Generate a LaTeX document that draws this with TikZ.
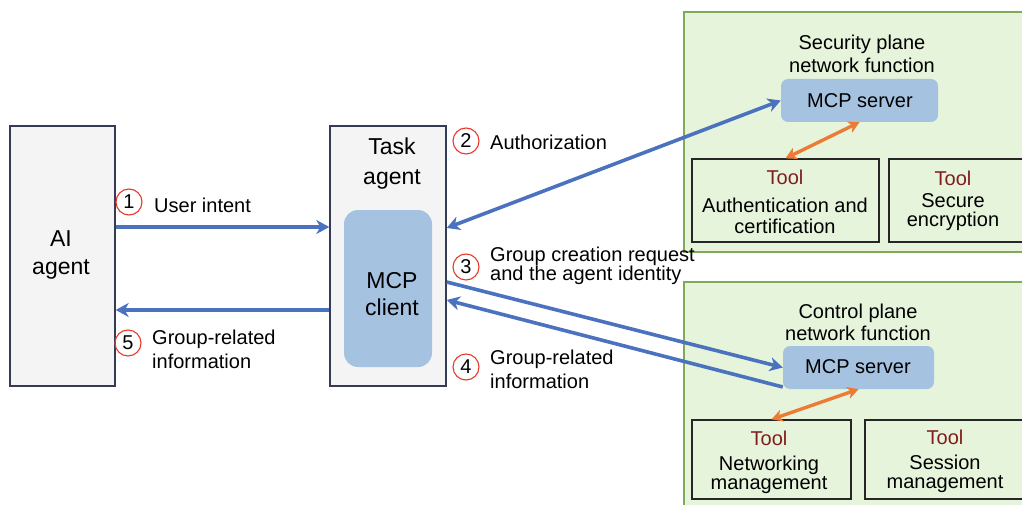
\documentclass[tikz,border=0pt]{standalone}
\usepackage{fontspec}
\setmainfont{Liberation Sans}
\usetikzlibrary{arrows.meta}

\definecolor{flowblue}{RGB}{74,114,190}
\definecolor{tooloran}{RGB}{236,123,53}
\definecolor{steprd}{RGB}{230,57,42}
\definecolor{tooltxt}{RGB}{128,28,28}
\definecolor{planefill}{RGB}{231,244,220}
\definecolor{planeline}{RGB}{126,170,90}
\definecolor{mcpfill}{RGB}{165,195,225}
\definecolor{agentfill}{RGB}{244,244,245}
\definecolor{agentline}{RGB}{54,59,85}

\tikzset{
  agentbox/.style={draw=agentline, fill=agentfill, line width=1.4pt, inner sep=0pt},
  planebox/.style={draw=planeline, fill=planefill, line width=1.2pt, inner sep=0pt},
  mcpbox/.style={fill=mcpfill, rounded corners=#1, inner sep=0pt},
  toolbox/.style={draw=black!85, fill=planefill, line width=1.3pt, inner sep=0pt},
  txt/.style={inner sep=0pt, align=center, font=\fontsize{20}{24}\selectfont},
  tighttxt/.style={inner sep=0pt, align=center, font=\fontsize{20}{18.5}\selectfont},
  bigtxt/.style={inner sep=0pt, align=center, font=\fontsize{23}{28}\selectfont},
  tooltag/.style={inner sep=0pt, text=tooltxt, font=\fontsize{20}{24}\selectfont},
  stepnum/.style={circle, draw=steprd, line width=1.1pt, minimum size=26pt, inner sep=0pt, font=\fontsize{20}{24}\selectfont},
  flow/.style={draw=flowblue, line width=3.6pt},
  toollink/.style={draw=tooloran, line width=3.4pt, {Stealth[length=11pt, width=12pt, inset=3pt]}-{Stealth[length=11pt, width=12pt, inset=3pt]}}
}

\begin{document}
\begin{tikzpicture}[x=1pt, y=-1pt]
\useasboundingbox (0,0) rectangle (1022,505);
\clip (0,0) rectangle (1022,505);

% agents
\node[agentbox, minimum width=105pt, minimum height=260pt] (ai) at (62.5,256) {};
\node[bigtxt, font=\fontsize{23}{28}\selectfont] (ailabel) at (61,255) {AI\\agent};

\node[agentbox, minimum width=116pt, minimum height=260pt] (task) at (388,256) {};
\node[bigtxt, font=\fontsize{23}{30}\selectfont] (tasklabel) at (392,164) {Task\\agent};
\node[mcpbox=14pt, minimum width=88pt, minimum height=157pt] (client) at (388,288.5) {};
\node[bigtxt, font=\fontsize{23}{27}\selectfont] (clientlabel) at (392,294) {MCP\\client};

% security plane network function
\node[planebox, minimum width=346pt, minimum height=240pt] (secplane) at (857,132) {};
\node[txt, font=\fontsize{20}{23}\selectfont] (sectitle) at (862,54) {Security plane\\network function};
\node[mcpbox=7pt, minimum width=157pt, minimum height=43pt] (sserver) at (859.5,100.5) {};
\node[txt] (sserverlabel) at (860,100.5) {MCP server};
\node[toolbox, minimum width=187pt, minimum height=83pt] (tool1) at (785.5,200.5) {};
\node[tooltag] (tool1tag) at (785,177) {Tool};
\node[txt, font=\fontsize{20}{21}\selectfont] (tool1label) at (785,215.5) {Authentication and\\certification};
\node[toolbox, minimum width=145pt, minimum height=83pt] (tool2) at (961.5,200.5) {};
\node[tooltag] (tool2tag) at (953,178) {Tool};
\node[tighttxt] (tool2label) at (953,212) {Secure\\encryption};

% control plane network function
\node[planebox, minimum width=346pt, minimum height=240pt] (ctlplane) at (857,402) {};
\node[txt, font=\fontsize{20}{22}\selectfont] (ctltitle) at (858,322) {Control plane\\network function};
\node[mcpbox=7pt, minimum width=151pt, minimum height=43pt] (cserver) at (858.5,367.5) {};
\node[txt] (cserverlabel) at (858,366.5) {MCP server};
\node[toolbox, minimum width=159pt, minimum height=79pt] (tool3) at (771.5,459.5) {};
\node[tooltag] (tool3tag) at (769,438) {Tool};
\node[tighttxt] (tool3label) at (769,475) {Networking\\management};
\node[toolbox, minimum width=165pt, minimum height=79pt] (tool4) at (947.5,459.5) {};
\node[tooltag] (tool4tag) at (945,437) {Tool};
\node[tighttxt] (tool4label) at (945,474) {Session\\management};

% step markers and their labels
\node[stepnum] (s1) at (129,202) {1};
\node[txt, anchor=west] (l1) at (154,205) {User intent};
\node[stepnum] (s5) at (128,343) {5};
\node[txt, anchor=west, align=left] (l5) at (152,349) {Group-related\\information};
\node[stepnum] (s2) at (466,141) {2};
\node[txt, anchor=west] (l2) at (490,142) {Authorization};
\node[stepnum] (s3) at (466,267) {3};
\node[txt, anchor=west, align=left, font=\fontsize{20}{19}\selectfont] (l3) at (490,265.5) {Group creation request\\and the agent identity};
\node[stepnum] (s4) at (466,367) {4};
\node[txt, anchor=west, align=left] (l4) at (490,369) {Group-related\\information};

% message flows
\coordinate (p1) at (0,227);
\coordinate (p5) at (0,310);
\coordinate (p2) at (0,228);
\coordinate (p3) at (0,282);
\coordinate (p4) at (0,300);
\coordinate (q4) at (0,387);

\draw[flow, -{Stealth[length=13pt, width=14pt, inset=4pt]}] (ai.east |- p1) -- (task.west |- p1);
\draw[flow, -{Stealth[length=13pt, width=14pt, inset=4pt]}] (task.west |- p5) -- (ai.east |- p5);
\draw[flow, {Stealth[length=13pt, width=14pt, inset=4pt]}-{Stealth[length=13pt, width=14pt, inset=4pt]}] (task.east |- p2) -- (sserver.west);
\draw[flow, -{Stealth[length=13pt, width=14pt, inset=4pt]}] (task.east |- p3) -- (cserver.west);
\draw[flow, -{Stealth[length=13pt, width=14pt, inset=4pt]}] (cserver.west |- q4) -- (task.east |- p4);

% server to tool links
\draw[toollink] (sserver.south) -- (tool1.north);
\draw[toollink] (cserver.south) -- (tool3.north);
\end{tikzpicture}
\end{document}
